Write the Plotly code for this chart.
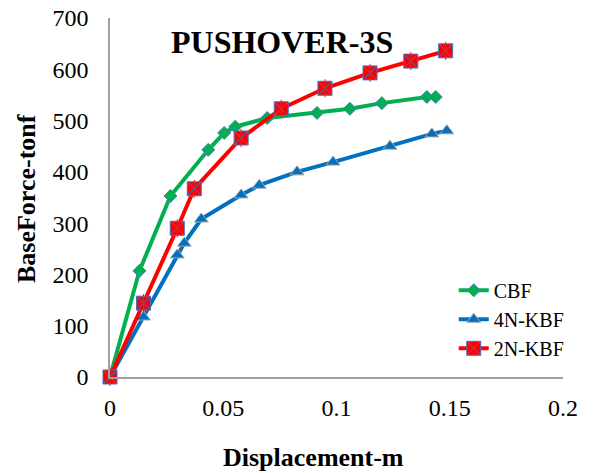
import plotly.graph_objects as go

# Data
cbf_x = [0, 0.0130, 0.0267, 0.0434, 0.0504, 0.0553, 0.0694, 0.0914, 0.1059, 0.1200, 0.1399, 0.1438]
cbf_y = [0, 207, 353, 443, 476, 488, 505, 515, 523, 534, 546, 546]

kbf4_x = [0, 0.0148, 0.0297, 0.0328, 0.0403, 0.0579, 0.0659, 0.0826, 0.0985, 0.1236, 0.1421, 0.1487]
kbf4_y = [0, 117, 238, 261, 308, 355, 374, 400, 419, 450, 474, 480]

kbf2_x = [0, 0.0148, 0.0297, 0.0372, 0.0579, 0.0756, 0.0949, 0.1148, 0.1328, 0.1482]
kbf2_y = [0, 144, 290, 367, 466, 523, 563, 593, 616, 636]

x_ticks = [0, 0.05, 0.1, 0.15, 0.2]
x_tick_labels = ["0", "0.05", "0.1", "0.15", "0.2"]
y_ticks = [0, 100, 200, 300, 400, 500, 600, 700]

FONT = "Liberation Serif"

# pixel -> paper helpers (plot area: x 109.5..563.5, y 18..377.3)
def px(X):
    return (X - 109.5) / 454.0

def py(Y):
    return (377.3 - Y) / 359.3

fig = go.Figure()
fig.add_trace(go.Scatter(
    x=cbf_x, y=cbf_y, name="CBF", mode="lines+markers",
    line=dict(color="#00B050", width=4),
    marker=dict(symbol="diamond", size=10, color="#00B050",
                line=dict(color="#4A7EBB", width=1)),
    cliponaxis=False))
fig.add_trace(go.Scatter(
    x=kbf4_x, y=kbf4_y, name="4N-KBF", mode="lines+markers",
    line=dict(color="#0070C0", width=4),
    marker=dict(symbol="triangle-up", size=12, color="#0070C0",
                line=dict(color="#A5A5A5", width=1)),
    cliponaxis=False))
fig.add_trace(go.Scatter(
    x=kbf2_x, y=kbf2_y, name="2N-KBF", mode="lines+markers",
    line=dict(color="#FF0000", width=4),
    marker=dict(symbol="square-x", size=14, color="#FF0000",
                line=dict(color="#4472C4", width=1)),
    cliponaxis=False))
# vertical stroke of the asterisk inside the red square markers
fig.add_trace(go.Scatter(
    x=kbf2_x, y=kbf2_y, mode="markers", showlegend=False, hoverinfo="skip",
    marker=dict(symbol="line-ns-open", size=13,
                line=dict(color="#4472C4", width=1)),
    cliponaxis=False))

fig.update_layout(
    template="none",
    width=594, height=473,
    margin=dict(l=109.5, r=30.5, t=18, b=95.7, pad=0),
    paper_bgcolor="white", plot_bgcolor="white",
    font=dict(family=FONT, color="black", size=24),
    showlegend=True,
    legend=dict(x=px(454), y=py(271), xanchor="left", yanchor="top",
                font=dict(family=FONT, size=20, color="black"),
                bgcolor="rgba(0,0,0,0)", borderwidth=0, tracegroupgap=0),
    xaxis=dict(range=[0, 0.2], tickmode="array", tickvals=x_ticks,
               ticktext=x_tick_labels, showgrid=False, zeroline=False,
               showline=True, linecolor="#A0A0A0", linewidth=1.5,
               ticks="", ticklen=0, automargin=False,
               ticklabelstandoff=8, ticklabeloverflow="allow",
               tickfont=dict(family=FONT, size=24, color="black"),
               fixedrange=True),
    yaxis=dict(range=[0, 700], tickmode="array", tickvals=y_ticks,
               showgrid=False, zeroline=False,
               showline=True, linecolor="#A0A0A0", linewidth=1.5,
               ticks="", ticklen=0, automargin=False,
               ticklabelstandoff=15, ticklabeloverflow="allow",
               tickfont=dict(family=FONT, size=24, color="black"),
               fixedrange=True),
    annotations=[
        dict(text="<b>PUSHOVER-3S</b>", xref="paper", yref="paper",
             x=px(282), y=py(42),
             xanchor="center", yanchor="middle", showarrow=False,
             font=dict(family=FONT, size=32, color="black")),
        dict(text="<b>Displacement-m</b>", xref="paper", yref="paper",
             x=px(313), y=py(458),
             xanchor="center", yanchor="middle", showarrow=False,
             font=dict(family=FONT, size=26, color="black")),
        dict(text="<b>BaseForce-tonf</b>", xref="paper", yref="paper",
             x=px(26), y=py(198.5),
             xanchor="center", yanchor="middle", showarrow=False,
             textangle=-90,
             font=dict(family=FONT, size=26, color="black")),
    ],
)

fig.write_html("out.html",
               config={"displayModeBar": False},
               post_script="document.body.style.margin='0';document.body.style.overflow='hidden';")
